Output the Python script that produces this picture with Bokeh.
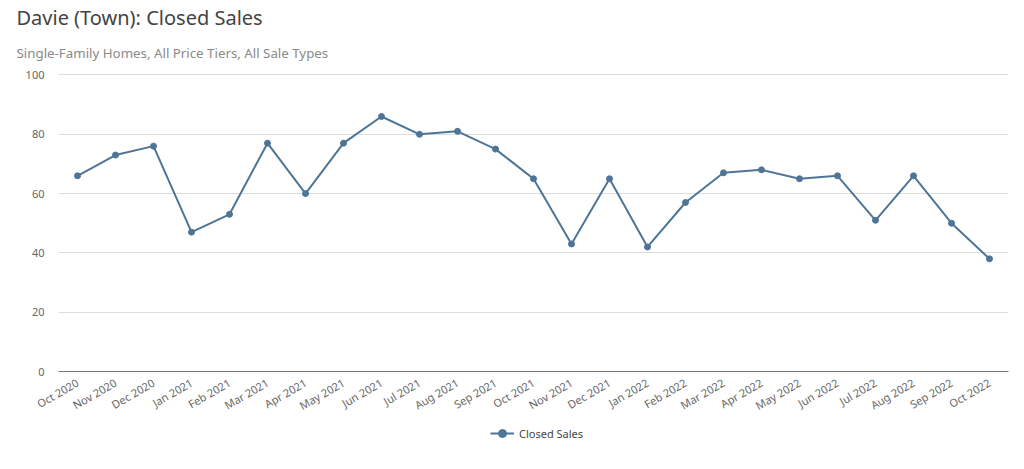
from bokeh.plotting import figure
from bokeh.layouts import column
from bokeh.models import Title, Legend, LegendItem, FactorRange, Range1d, FixedTicker
from bokeh.embed import file_html
from bokeh.resources import INLINE
from math import pi

months = ["Oct 2020", "Nov 2020", "Dec 2020", "Jan 2021", "Feb 2021", "Mar 2021", "Apr 2021",
          "May 2021", "Jun 2021", "Jul 2021", "Aug 2021", "Sep 2021", "Oct 2021", "Nov 2021",
          "Dec 2021", "Jan 2022", "Feb 2022", "Mar 2022", "Apr 2022", "May 2022", "Jun 2022",
          "Jul 2022", "Aug 2022", "Sep 2022", "Oct 2022"]
closed_sales = [66, 73, 76, 47, 53, 77, 60, 77, 86, 80, 81, 75, 65, 43, 65, 42, 57, 67, 68, 65, 66,
                51, 66, 50, 38]
y_ticks = [0, 20, 40, 60, 80, 100]
series_name = "Closed Sales"

FONT = "Noto Sans"
COLOR = "#4f7596"

p = figure(width=1016, height=422, x_range=FactorRange(*months), y_range=Range1d(0, 100.5),
           output_backend="svg", toolbar_location=None, title=None,
           min_border_left=58, min_border_right=8, min_border_bottom=51, min_border_top=73)

sub = Title(text="Single-Family Homes, All Price Tiers, All Sale Types", text_font=FONT,
            text_font_size="13.3px", text_color="#8a8a8a", text_font_style="normal",
            text_line_height=1.0, align="left", offset=-42, standoff=23)
p.add_layout(sub, "above")
ttl = Title(text="Davie (Town): Closed Sales", text_font=FONT, text_font_size="20px",
            text_color="#444444", text_font_style="normal", text_line_height=1.0,
            align="left", offset=-42, standoff=0)
p.add_layout(ttl, "above")

r_line = p.line(months, closed_sales, line_color=COLOR, line_width=2)
r_pts = p.scatter(months, closed_sales, size=6, fill_color=COLOR, line_color=COLOR)

p.outline_line_color = None
p.xgrid.grid_line_color = None
p.ygrid.grid_line_color = "#dddddd"
p.ygrid.grid_line_width = 1
p.ygrid.ticker = FixedTicker(ticks=y_ticks)

p.yaxis.ticker = FixedTicker(ticks=y_ticks)
p.yaxis.axis_line_color = None
p.yaxis.major_tick_line_color = None
p.yaxis.minor_tick_line_color = None
p.yaxis.major_label_text_font = FONT
p.yaxis.major_label_text_font_size = "11px"
p.yaxis.major_label_text_color = "#666666"
p.yaxis.major_label_standoff = 8

p.xaxis.axis_line_color = "#777777"
p.xaxis.axis_line_width = 1
p.xaxis.major_tick_line_color = None
p.xaxis.minor_tick_line_color = None
p.xaxis.major_label_orientation = pi / 6
p.xaxis.major_label_text_font = FONT
p.xaxis.major_label_text_font_size = "11px"
p.xaxis.major_label_text_color = "#666666"
p.xaxis.major_label_standoff = 4

# legend strip below the chart
lg = figure(width=1016, height=40, x_range=FactorRange(*months), y_range=Range1d(0, 100.5),
            output_backend="svg", toolbar_location=None, title=None,
            min_border_left=58, min_border_right=8, min_border_bottom=0, min_border_top=0)
lg.xaxis.visible = False
lg.yaxis.visible = False
lg.grid.visible = False
lg.outline_line_color = None
l_line = lg.line(months, closed_sales, line_color=COLOR, line_width=2, visible=False)
l_pts = lg.scatter(months, closed_sales, size=6, fill_color=COLOR, line_color=COLOR, visible=False)
legend = Legend(items=[LegendItem(label=series_name, renderers=[l_line, l_pts])],
                location=(432, 19), orientation="horizontal", border_line_color=None,
                background_fill_alpha=0, inactive_fill_alpha=0,
                label_text_font=FONT, label_text_font_size="11px", label_text_color="#444444",
                glyph_width=24, margin=0, padding=4)
lg.add_layout(legend, "center")

layout = column(p, lg, spacing=0)
open("out.html", "w").write(file_html(layout, INLINE))
